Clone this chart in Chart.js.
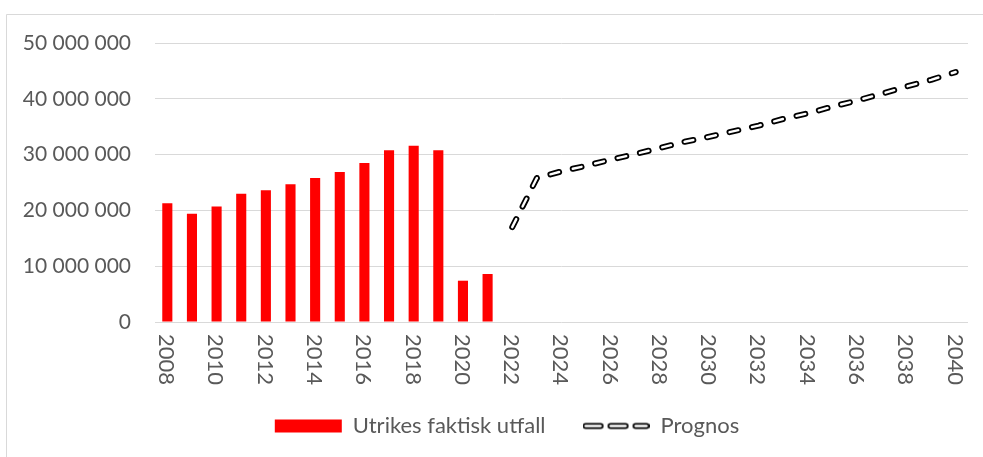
<!DOCTYPE html>
<html>
<head>
<meta charset="utf-8">
<script src="https://cdn.jsdelivr.net/npm/chart.js@4/dist/chart.umd.min.js"></script>
<style>
  html, body { margin: 0; padding: 0; background: #fff; }
  canvas { display: block; }
</style>
</head>
<body>
<canvas id="chart" width="983" height="457"></canvas>
<script>
// Years on the category axis
const years = [];
for (let y = 2008; y <= 2040; y++) years.push(String(y));

// Actual outcome 2008–2021
const actualYears = ['2008','2009','2010','2011','2012','2013','2014','2015','2016','2017','2018','2019','2020','2021'];
const actualValues = [21300000, 19400000, 20700000, 23000000, 23600000, 24700000, 25800000,
                      26900000, 28500000, 30800000, 31600000, 30800000, 7400000, 8600000];

// Forecast 2022–2040
const forecastYears = ['2022','2023','2024','2025','2026','2027','2028','2029','2030','2031',
                       '2032','2033','2034','2035','2036','2037','2038','2039','2040'];
const forecastValues = [17000000, 25800000, 27000000, 28000000, 29100000, 30100000, 31200000,
                        32300000, 33200000, 34200000, 35200000, 36400000, 37400000, 38600000,
                        39700000, 40900000, 42200000, 43400000, 44800000];

// Y tick values
const yTicks = [0, 10000000, 20000000, 30000000, 40000000, 50000000];

// Labels shown on the x axis (every second year)
const xTickLabels = years.filter(y => Number(y) % 2 === 0);

const seriesNames = ['Utrikes faktisk utfall', 'Prognos'];

// Spread each series over the full year axis
const barData = years.map(y => {
  const i = actualYears.indexOf(y);
  return i >= 0 ? actualValues[i] : null;
});
const lineData = years.map(y => {
  const i = forecastYears.indexOf(y);
  return i >= 0 ? forecastValues[i] : null;
});

const FONT = 'Lato, "Open Sans", sans-serif';
const FONT_SIZE = 22;
const TEXT = '#595959';
const GRID = '#d9d9d9';
const DASH = [9, 14];

function fmt(v) {
  return String(Math.round(v)).replace(/\B(?=(\d{3})+(?!\d))/g, ' ');
}

// Legend swatch for the outlined dashed line
const swatch = document.createElement('canvas');
swatch.width = 67; swatch.height = 13;
(function () {
  const c = swatch.getContext('2d');
  c.lineCap = 'round';
  const segs = [[3, 18], [28, 43], [53, 64]];
  c.strokeStyle = '#000'; c.lineWidth = 6;
  segs.forEach(s => { c.beginPath(); c.moveTo(s[0], 6.5); c.lineTo(s[1], 6.5); c.stroke(); });
  c.strokeStyle = '#fff'; c.lineWidth = 2.4;
  segs.forEach(s => { c.beginPath(); c.moveTo(s[0], 6.5); c.lineTo(s[1], 6.5); c.stroke(); });
})();

// White background and thin frame
const framePlugin = {
  id: 'frame',
  beforeDraw(chart) {
    const ctx = chart.ctx;
    ctx.save();
    ctx.fillStyle = '#fff';
    ctx.fillRect(0, 0, chart.width, chart.height);
    ctx.strokeStyle = GRID;
    ctx.lineWidth = 1;
    ctx.beginPath();
    ctx.moveTo(6.5, chart.height);
    ctx.lineTo(6.5, 14.5);
    ctx.lineTo(chart.width, 14.5);
    ctx.stroke();
    ctx.restore();
  }
};

// Centre the legend under the plot rather than under the whole canvas
const legendShift = {
  id: 'legendShift',
  afterLayout(chart) {
    const lg = chart.legend;
    if (lg) { lg.left += 18; lg.right += 18; }
  }
};

// Vertical year labels reading top to bottom
const yearLabels = {
  id: 'yearLabels',
  afterDraw(chart) {
    const xs = chart.scales.x;
    const ctx = chart.ctx;
    ctx.save();
    ctx.fillStyle = TEXT;
    ctx.font = FONT_SIZE + 'px ' + FONT;
    ctx.textAlign = 'left';
    ctx.textBaseline = 'middle';
    xTickLabels.forEach(lbl => {
      const x = xs.getPixelForValue(years.indexOf(lbl));
      ctx.save();
      ctx.translate(x - 1, chart.chartArea.bottom + 12);
      ctx.rotate(Math.PI / 2);
      ctx.fillText(lbl, 0, 0);
      ctx.restore();
    });
    ctx.restore();
  }
};

new Chart(document.getElementById('chart'), {
  data: {
    labels: years,
    datasets: [
      {
        type: 'bar',
        label: seriesNames[0],
        data: barData,
        backgroundColor: '#ff0000',
        barPercentage: 0.41,
        categoryPercentage: 1,
        order: 3
      },
      {
        type: 'line',
        label: seriesNames[1],
        data: lineData,
        borderColor: '#000',
        borderWidth: 6,
        borderDash: DASH,
        borderCapStyle: 'round',
        borderJoinStyle: 'round',
        pointRadius: 0,
        tension: 0,
        fill: false,
        order: 2
      },
      {
        type: 'line',
        label: seriesNames[1] + ' ',
        data: lineData,
        borderColor: '#fff',
        borderWidth: 2.4,
        borderDash: DASH,
        borderCapStyle: 'round',
        borderJoinStyle: 'round',
        pointRadius: 0,
        tension: 0,
        fill: false,
        order: 1
      }
    ]
  },
  options: {
    responsive: false,
    animation: false,
    devicePixelRatio: 1,
    layout: { padding: { left: 10, right: 15, top: 43, bottom: 10 } },
    scales: {
      x: {
        type: 'category',
        grid: { display: false },
        border: { display: false },
        ticks: { display: false },
        afterFit(scale) { scale.height = 56; }
      },
      y: {
        min: 0,
        max: 50000000,
        afterBuildTicks(scale) { scale.ticks = yTicks.map(v => ({ value: v })); },
        grid: { color: GRID, lineWidth: 1, drawTicks: false },
        border: { display: false },
        ticks: {
          padding: 24,
          color: TEXT,
          font: { family: FONT, size: 21 },
          callback: v => fmt(v)
        },
        afterFit(scale) { scale.width = 145; }
      }
    },
    plugins: {
      tooltip: { enabled: false },
      legend: {
        position: 'bottom',
        labels: {
          usePointStyle: true,
          pointStyleWidth: 67,
          boxHeight: 13,
          padding: 37,
          color: TEXT,
          font: { family: FONT, size: FONT_SIZE },
          generateLabels() {
            return [
              { text: seriesNames[0], fillStyle: '#ff0000', strokeStyle: '#ff0000', lineWidth: 0,
                pointStyle: 'rect', hidden: false, datasetIndex: 0, fontColor: TEXT },
              { text: seriesNames[1], fillStyle: '#fff', strokeStyle: '#000', lineWidth: 0,
                pointStyle: swatch, hidden: false, datasetIndex: 1, fontColor: TEXT }
            ];
          }
        }
      }
    }
  },
  plugins: [framePlugin, legendShift, yearLabels]
});
</script>
</body>
</html>
